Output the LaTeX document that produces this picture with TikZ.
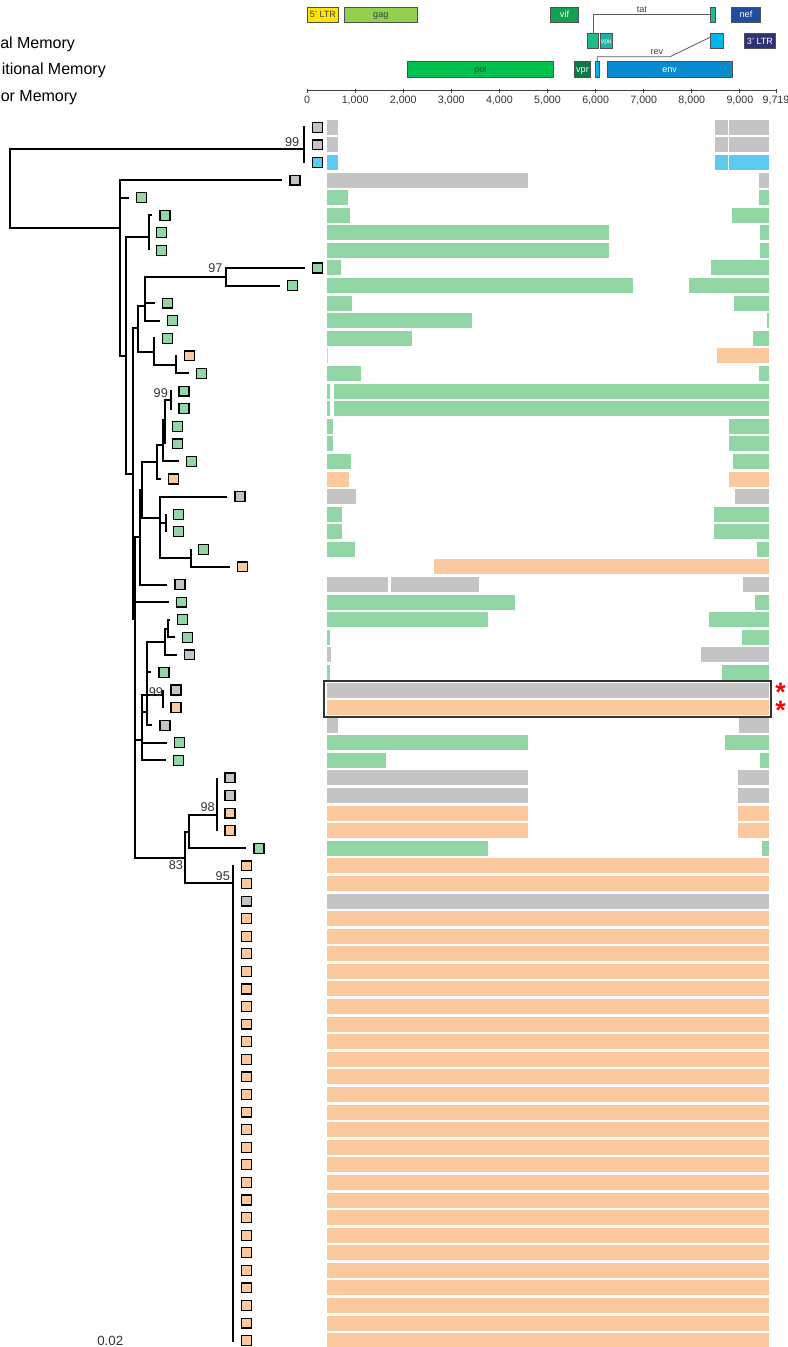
\documentclass[tikz,border=0pt]{standalone}
\usepackage{fontspec}
\setmainfont{Liberation Sans}
\usetikzlibrary{positioning}
\definecolor{memgray}{HTML}{C4C4C4}
\definecolor{memgreen}{HTML}{92D6A6}
\definecolor{memorange}{HTML}{FCC99E}
\definecolor{memblue}{HTML}{5BCCF0}
\definecolor{genebd}{HTML}{505050}
\definecolor{ltrfive}{HTML}{FFE600}
\definecolor{gagcol}{HTML}{92D050}
\definecolor{vifcol}{HTML}{12A150}
\definecolor{tatcol}{HTML}{1CBD86}
\definecolor{nefcol}{HTML}{1F4E9E}
\definecolor{vpucol}{HTML}{1AB5A6}
\definecolor{revcol}{HTML}{00B4EE}
\definecolor{ltrthree}{HTML}{2E3273}
\definecolor{polcol}{HTML}{00C050}
\definecolor{vprcol}{HTML}{0C7843}
\definecolor{envcol}{HTML}{0A8BD0}
\tikzset{>=latex}
\tikzset{
  branch/.style={line width=1.5pt, line join=miter},
  leaf/.style={draw=black, line width=0.9pt, minimum size=7.4pt, inner sep=0pt, outer sep=0pt},
  gene/.style={draw=genebd, line width=0.5pt, minimum height=11.5pt, inner sep=0pt,
    text height=4.9pt, text depth=0pt, font=\fontsize{6.8}{7}\selectfont, text=black!75},
  genelbl/.style={font=\fontsize{6.8}{7}\selectfont, text=black!75, inner sep=1pt},
  splice/.style={draw=black!65, line width=0.6pt},
  axisline/.style={draw=black!75, line width=0.7pt},
  ticklbl/.style={font=\fontsize{8}{9}\selectfont, text=black!80, anchor=north, inner sep=0pt},
  legend/.style={font=\fontsize{12}{14}\selectfont, anchor=base west, inner sep=0pt},
  boot/.style={font=\fontsize{9.5}{11}\selectfont, text=black!80, inner sep=0pt},
  hlbox/.style={draw=black!80, line width=1.5pt},
  redstar/.style={font=\bfseries\fontsize{20}{13.19}\selectfont, text=red, align=center,
    anchor=center, inner sep=0pt}
}
\newcommand{\rowy}[1]{127.3+17.585*(#1)}
\newcommand{\starmark}{\raisebox{-0.44em}[0.15em][0.15em]{*}}

\begin{document}
\begin{tikzpicture}[x=0.75pt, y=-0.75pt]
  \useasboundingbox (0,0) rectangle (788,1347);

  % Legend
  \node[legend] (lgcm) at (0,48.3)   {al Memory};
  \node[legend] (lgtm) at (1.5,74)   {itional Memory};
  \node[legend] (lgem) at (0.5,101.7) {or Memory};

  % Genome map
  \node[gene, fill=ltrfive, minimum width=23.5pt]            (ltr5) at (323,14.7)   {5' LTR};
  \node[gene, fill=gagcol, minimum width=55pt]               (gag)  at (380.8,14.7) {gag};
  \node[gene, fill=vifcol, text=white, minimum width=21.3pt] (vif)  at (564.5,14.7) {vif};
  \node[gene, fill=tatcol, minimum width=4.3pt]              (tat2) at (712.8,14.7) {};
  \node[gene, fill=nefcol, text=white, minimum width=22pt]   (nef)  at (746,14.7)   {nef};
  \node[gene, fill=tatcol, minimum width=8.1pt]              (tat1) at (593,40.8)   {};
  \node[gene, fill=vpucol, text=white, minimum width=9pt, text height=3.6pt,
    font=\fontsize{5}{6}\selectfont]                         (vpu)  at (606.3,40.8) {vpu};
  \node[gene, fill=revcol, minimum width=10pt]               (rev2) at (717,40.8)   {};
  \node[gene, fill=ltrthree, text=white, minimum width=23.5pt] (ltr3) at (760,40.8) {3' LTR};
  \node[gene, fill=polcol, minimum width=109pt]              (pol)  at (480.3,69.3) {pol};
  \node[gene, fill=vprcol, text=white, minimum width=11.8pt] (vpr)  at (582.5,69.3) {vpr};
  \node[gene, fill=revcol, minimum width=3.6pt]              (rev1) at (597.3,69.3) {};
  \node[gene, fill=envcol, text=white, minimum width=94pt]   (env)  at (669.7,69.3) {env};
  \coordinate (revbend) at (670,56.7);
  \draw[splice] (tat1.north) |- node[genelbl, above, pos=0.71] {tat} (tat2.west);
  \draw[splice] (rev1.north) |- node[genelbl, above, pos=0.91] {rev} (revbend)
    -- ([yshift=2.6pt]rev2.west);

  % Axis
  \draw[axisline] (307,90.7) coordinate (ax0) -- (776,90.7) coordinate (axend);
  \foreach \k/\lbl in {0/0, 1/{1,000}, 2/{2,000}, 3/{3,000}, 4/{4,000},
                       5/{5,000}, 6/{6,000}, 7/{7,000}, 8/{8,000}, 9/{9,000}} {
    \draw[axisline] ({307+48.1*\k},88.5) -- ({307+48.1*\k},92.9);
    \node[ticklbl] (tk\k) at ({307+48.1*\k},96) {\lbl};
  }
  \draw[axisline] (axend) ++(0,-2.2) -- ++(0,4.4);
  \node[ticklbl] (tkend) at (776,96) {9,719};

  % Coverage bars
  \foreach \r/\a/\b/\col in {
    0/327/338/memgray, 0/715/728/memgray, 0/729/769/memgray,
    1/327/338/memgray, 1/715/728/memgray, 1/729/769/memgray,
    2/327/338/memblue, 2/715/728/memblue, 2/729/769/memblue,
    3/327/528/memgray, 3/759/769/memgray,
    4/327/348/memgreen, 4/759/769/memgreen,
    5/327/350/memgreen, 5/732/769/memgreen,
    6/327/609/memgreen, 6/760/769/memgreen,
    7/327/609/memgreen, 7/760/769/memgreen,
    8/327/341/memgreen, 8/711/769/memgreen,
    9/327/633/memgreen, 9/689/769/memgreen,
    10/327/352/memgreen, 10/734/769/memgreen,
    11/327/472/memgreen, 11/767/769/memgreen,
    12/327/412/memgreen, 12/753/769/memgreen,
    13/327/328/memorange, 13/717/769/memorange,
    14/327/361/memgreen, 14/759/769/memgreen,
    15/327/330/memgreen, 15/334/769/memgreen,
    16/327/330/memgreen, 16/334/769/memgreen,
    17/327/333/memgreen, 17/729/769/memgreen,
    18/327/333/memgreen, 18/729/769/memgreen,
    19/327/351/memgreen, 19/733/769/memgreen,
    20/327/349/memorange, 20/729/769/memorange,
    21/327/356/memgray, 21/735/769/memgray,
    22/327/342/memgreen, 22/714/769/memgreen,
    23/327/342/memgreen, 23/714/769/memgreen,
    24/327/355/memgreen, 24/757/769/memgreen,
    25/434/769/memorange,
    26/327/388/memgray, 26/391/479/memgray, 26/743/769/memgray,
    27/327/515/memgreen, 27/755/769/memgreen,
    28/327/488/memgreen, 28/709/769/memgreen,
    29/327/330/memgreen, 29/742/769/memgreen,
    30/327/331/memgray, 30/701/769/memgray,
    31/327/330/memgreen, 31/722/769/memgreen,
    32/327/769/memgray, 33/327/769/memorange,
    34/327/338/memgray, 34/739/769/memgray,
    35/327/528/memgreen, 35/725/769/memgreen,
    36/327/386/memgreen, 36/760/769/memgreen,
    37/327/528/memgray, 37/738/769/memgray,
    38/327/528/memgray, 38/738/769/memgray,
    39/327/528/memorange, 39/738/769/memorange,
    40/327/528/memorange, 40/738/769/memorange,
    41/327/488/memgreen, 41/762/769/memgreen,
    42/327/769/memorange, 43/327/769/memorange, 44/327/769/memgray}
    \fill[\col] (\a,{\rowy{\r}-7.5}) rectangle (\b,{\rowy{\r}+7.5});
  \foreach \r in {45,...,69}
    \fill[memorange] (327,{\rowy{\r}-7.5}) rectangle (769,{\rowy{\r}+7.5});

  % Recombinant pair
  \draw[hlbox] (323.5,680.5) rectangle (770.5,716.5);
  \node[redstar] (ast) at (780.5,{\rowy{32.5}}) {\starmark\\\starmark};

  % Leaves
  \foreach \i/\x/\col in {
    0/304.6/memgray, 1/304.6/memgray, 2/304.6/memblue, 3/282.3/memgray,
    4/129/memgreen, 5/152.3/memgreen, 6/149/memgreen, 7/149/memgreen,
    8/304.6/memgreen, 9/279.6/memgreen, 10/154.6/memgreen, 11/160/memgreen,
    12/154.6/memgreen, 13/176.6/memorange, 14/189/memgreen, 15/171.3/memgreen,
    16/171.3/memgreen, 17/165/memgreen, 18/165/memgreen, 19/179/memgreen,
    20/160.6/memorange, 21/227.3/memgray, 22/165.7/memgreen, 23/165.7/memgreen,
    24/190.7/memgreen, 25/230/memorange, 26/167.3/memgray, 27/169/memgreen,
    28/169.6/memgreen, 29/174.6/memgreen, 30/176.6/memgray, 31/151.3/memgreen,
    32/163.3/memgray, 33/163.3/memorange, 34/152.3/memgray, 35/166.6/memgreen,
    36/165.6/memgreen, 37/217.3/memgray, 38/217.3/memgray, 39/217.3/memorange,
    40/217.3/memorange, 41/246.3/memgreen, 42/233.6/memorange, 43/233.6/memorange,
    44/233.6/memgray} {
    \coordinate (t\i) at (\x,{\rowy{\i}});
    \node[leaf, fill=\col, right=5.8pt of t\i] (s\i) {};
  }
  \foreach \i in {45,...,69} {
    \coordinate (t\i) at (233.6,{\rowy{\i}});
    \node[leaf, fill=memorange, right=5.8pt of t\i] (s\i) {};
  }

  % Internal nodes
  \coordinate (R)    at (10.3,189);
  \coordinate (T)    at (304.3,149.3);
  \coordinate (A)    at (120,228.3);
  \coordinate (B)    at (126,356);
  \coordinate (N5)   at (149,236.7);
  \coordinate (C)    at (132.7,474);
  \coordinate (D)    at (137.7,328.3);
  \coordinate (D1)   at (145,306);
  \coordinate (N97)  at (226,276.7);
  \coordinate (D2)   at (154.3,351.7);
  \coordinate (D3)   at (176,365.3);
  \coordinate (G)    at (135,619.3);
  \coordinate (E)    at (140,536.7);
  \coordinate (E1)   at (141.7,490);
  \coordinate (N1)   at (157.3,461.7);
  \coordinate (N2)   at (163.3,445);
  \coordinate (N4)   at (165,420);
  \coordinate (N99a) at (171,400);
  \coordinate (N21)  at (160,518.3);
  \coordinate (N22)  at (165.7,523.3);
  \coordinate (N24)  at (190.7,558.3);
  \coordinate (H)    at (141.7,740);
  \coordinate (Nc)   at (147.3,712);
  \coordinate (N28b) at (165,641.7);
  \coordinate (N28a) at (168.3,629.3);
  \coordinate (N99b) at (163.3,695);
  \coordinate (N83)  at (185,858.3);
  \coordinate (N98p) at (189.3,831.7);
  \coordinate (N98)  at (217.3,815);
  \coordinate (N95)  at (233,883.3);

  % Branches
  \foreach \p/\q in {R/T, R/A, T/t0, T/t1, T/t2, A/t3, A/t4, A/B, B/N5, B/C,
      N5/t5, N5/t6, N5/t7, C/D, C/G, D/D1, D/D2, D1/N97, D1/t10, D1/t11,
      N97/t8, N97/t9, D2/t12, D2/D3, D3/t13, D3/t14, G/E, G/t27, G/H, G/N83,
      E/E1, E/t26, E1/N1, E1/N21, N1/N2, N1/t20, N2/N4, N2/t19,
      N4/N99a, N4/t17, N4/t18, N99a/t15, N99a/t16, N21/t21, N21/N22, N21/N24,
      N22/t22, N22/t23, N24/t24, N24/t25, H/N99b, H/Nc, H/t35, H/t36,
      Nc/N28b, Nc/t31, Nc/t34, N28b/N28a, N28b/t30, N28a/t28, N28a/t29,
      N99b/t32, N99b/t33, N83/N98p, N83/N95, N98p/N98, N98p/t41,
      N98/t37, N98/t38, N98/t39, N98/t40}
    \draw[branch] (\p) |- (\q);
  \foreach \i in {42,...,69}
    \draw[branch] (N95) |- (t\i);

  % Support values
  \node[boot, above left=1.9pt and 3.7pt of T]    (bT)    {99};
  \node[boot, above left=2.5pt and 2.5pt of N97]  (b97)   {97};
  \node[boot, above left=1.5pt and 2.2pt of N99a] (b99a)  {99};
  \node[boot, above left=-1.2pt and 0pt of N99b]  (b99b)  {99};
  \node[boot, above left=2.5pt and 1.7pt of N98]  (b98)   {98};
  \node[boot, below left=1.3pt and 1.3pt of N83]  (b83)   {83};
  \node[boot, above left=1.7pt and 2.2pt of N95]  (b95)   {95};

  % Scale
  \node[boot, anchor=base, font=\fontsize{10}{12}\selectfont] (scale) at (110.3,1345) {0.02};
\end{tikzpicture}
\end{document}
